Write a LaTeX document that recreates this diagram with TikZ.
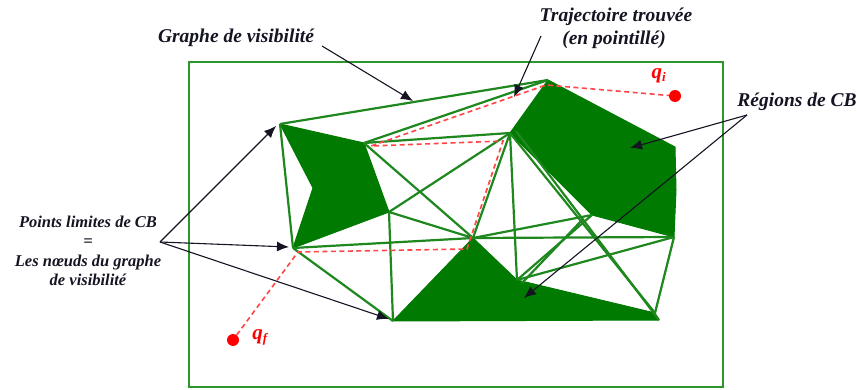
\documentclass[tikz,border=0pt]{standalone}
\usepackage{fontspec}
\setmainfont{Liberation Serif}
\usetikzlibrary{arrows.meta}
\definecolor{obs}{RGB}{0,122,0}
\definecolor{edgec}{RGB}{30,135,30}
\definecolor{framec}{RGB}{45,150,45}
\definecolor{routec}{RGB}{255,70,70}
\definecolor{inkc}{RGB}{20,20,35}
\begin{document}
\begin{tikzpicture}[x=1pt,y=-1pt,
  vis/.style={draw=edgec, line width=2.2pt},
  obstacle/.style={fill=obs, draw=obs, line width=1pt, line join=round},
  route/.style={draw=routec, line width=1.6pt, dash pattern=on 5pt off 3.5pt},
  annot/.style={draw=inkc, line width=1.1pt, -{Latex[length=12pt,width=10pt]}},
  lbl/.style={font=\bfseries\itshape\fontsize{19.5}{22}\selectfont, text=inkc, inner sep=0pt},
  smalllbl/.style={font=\bfseries\itshape\fontsize{16.5}{19.5}\selectfont, text=inkc, inner sep=0pt, align=center},
  qlbl/.style={font=\bfseries\itshape\fontsize{21}{22}\selectfont, text=red, inner sep=0pt},
  qdot/.style={circle, fill=red, minimum size=12pt, inner sep=0pt}
]
\useasboundingbox (0,0) rectangle (857,390);
% frame
\draw[framec, line width=2.5pt] (189,62) rectangle (723,387);
% vertices
\coordinate (A) at (280,124);
\coordinate (B) at (364,143);
\coordinate (C) at (389,212);
\coordinate (D) at (293,248);
\coordinate (E) at (313,188);
\coordinate (F) at (548,80);
\coordinate (G) at (510,133);
\coordinate (G2) at (516,131);
\coordinate (I) at (675,147);
\coordinate (H) at (674,237);
\coordinate (K) at (592,215);
\coordinate (K2) at (583,219);
\coordinate (L) at (473,238);
\coordinate (P) at (517,280);
\coordinate (P2) at (522,283);
\coordinate (N) at (655,313);
\coordinate (N2) at (659,320);
\coordinate (M) at (393,321);
% obstacles
\path[obstacle] (A) -- (B) -- (C) -- (D) -- (E) -- cycle;
\path[obstacle] (F) -- (I) -- (676,190) -- (H) -- (K) -- (G) -- cycle;
\path[obstacle] (L) -- (P) -- (N) -- (N2) -- (M) -- cycle;
% visibility graph edges
\draw[vis] (A) -- (F);
\draw[vis] (A) -- (D);
\draw[vis] (B) -- (F);
\draw[vis] (B) -- (G);
\draw[vis] (B) -- (L);
\draw[vis] (C) -- (G);
\draw[vis] (C) -- (L);
\draw[vis] (C) -- (M);
\draw[vis] (D) -- (L);
\draw[vis] (D) -- (M);
\draw[vis] (G) -- (L);
\draw[vis] (G) -- (P);
\draw[vis] (G) -- (N);
\draw[vis] (G2) -- (N2);
\draw[vis] (L) -- (K);
\draw[vis] (L) -- (H);
\draw[vis] (K) -- (P);
\draw[vis] (K2) -- (P2);
\draw[vis] (P) -- (H);
\draw[vis] (H) -- (N);
% start / goal
\node[qdot] (qi) at (675,96) {};
\node[qdot] (qf) at (233,340) {};
\node[qlbl] (qil) at (659,76) {q\textsubscript{\fontsize{13}{13}\selectfont i}};
\node[qlbl] (qfl) at (260,337) {q\textsubscript{\fontsize{13}{13}\selectfont f}};
% found route
\coordinate (Dr) at (298,252);
\coordinate (Lr) at (467,249);
\coordinate (Gr) at (503,141);
\coordinate (Br) at (371,146);
\coordinate (Fr) at (546,85);
\draw[route] (qf) -- (Dr) -- (Lr) -- (Gr) -- (Br) -- (Fr) -- (qi);
% annotations
\node[lbl] (tg) at (236,38) {Graphe de visibilité};
\node[lbl] (tt1) at (616,17) {Trajectoire trouvée};
\node[lbl] (tt2) at (614,40) {(en pointillé)};
\node[lbl] (tr) at (797,102) {Régions de CB};
\node[smalllbl] (tp) at (88,251) {Points limites de CB\\=\\Les nœuds du graphe\\de visibilité};
\coordinate (tgs) at (322,46);
\coordinate (tga) at (413,101);
\coordinate (tts) at (541,36);
\coordinate (tta) at (514,97);
\coordinate (trs) at (747,115);
\coordinate (tra1) at (630,148);
\coordinate (tra2) at (524,298);
\coordinate (tps) at (160,242);
\coordinate (tpa1) at (276,126);
\coordinate (tpa2) at (289,247);
\coordinate (tpa3) at (389,319);
\draw[annot] (tgs) -- (tga);
\draw[annot] (tts) -- (tta);
\draw[annot] (trs) -- (tra1);
\draw[annot] (trs) -- (tra2);
\draw[annot] (tps) -- (tpa1);
\draw[annot] (tps) -- (tpa2);
\draw[annot] (tps) -- (tpa3);
\end{tikzpicture}
\end{document}
